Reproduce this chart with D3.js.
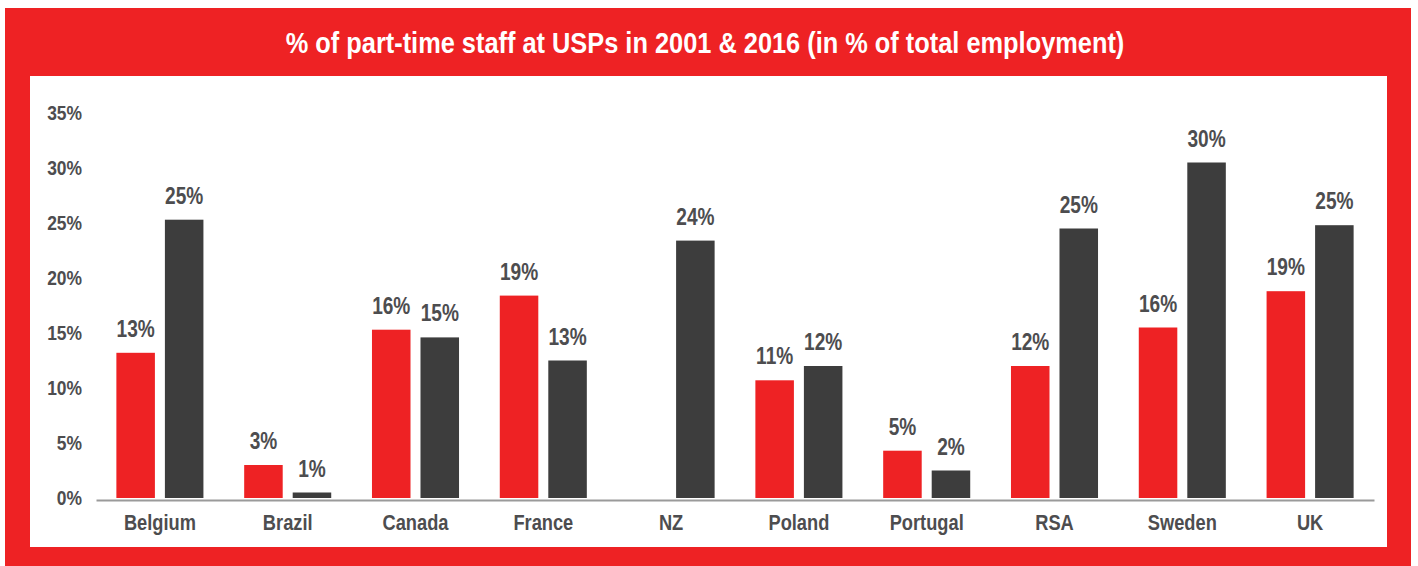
<!DOCTYPE html>
<html>
<head>
<meta charset="utf-8">
<script src="https://cdn.jsdelivr.net/npm/d3@7"></script>
<style>
  body { margin: 0; background: #fff; }
  svg text { font-family: "Liberation Sans", Arial, sans-serif; font-weight: bold; }
</style>
</head>
<body>
<div id="chart"></div>
<script>
// data
var countries = ["Belgium", "Brazil", "Canada", "France", "NZ", "Poland", "Portugal", "RSA", "Sweden", "UK"];
var values2001 = [13.2, 3.0, 15.3, 18.4, null, 10.7, 4.3, 12.0, 15.5, 18.8];
var values2016 = [25.3, 0.5, 14.6, 12.5, 23.4, 12.0, 2.5, 24.5, 30.5, 24.8];
var labels2001 = ["13%", "3%", "16%", "19%", "", "11%", "5%", "12%", "16%", "19%"];
var labels2016 = ["25%", "1%", "15%", "13%", "24%", "12%", "2%", "25%", "30%", "25%"];
var yTicks = [0, 5, 10, 15, 20, 25, 30, 35];
var title = "% of part-time staff at USPs in 2001 & 2016 (in % of total employment)";

var red = "#ee2224";
var dark = "#3d3d3d";
var textGrey = "#4d4d4f";
var squeeze = 0.83; // fake a condensed face

var W = 1418, H = 566;
var svg = d3.select("#chart").append("svg")
  .attr("width", W)
  .attr("height", H);

// text squeezed horizontally around its anchor point
function condensedText(parent, x, y, str, size, anchor, color, sx) {
  return parent.append("g")
    .attr("transform", "translate(" + x + "," + y + ") scale(" + (sx || squeeze) + ",1)")
    .append("text")
    .attr("text-anchor", anchor)
    .attr("fill", color)
    .style("font-size", size + "px")
    .text(str);
}

// red frame + white plot panel
svg.append("rect").attr("x", 5).attr("y", 8).attr("width", 1406).attr("height", 570).attr("fill", red);
svg.append("rect").attr("x", 30).attr("y", 76).attr("width", 1357).attr("height", 471).attr("fill", "#fff");

condensedText(svg, 705, 53, title, 29, "middle", "#fff", 0.875);

var margin = { left: 96, right: 1374, top: 113, bottom: 498 };

var x0 = d3.scaleBand()
  .domain(countries)
  .range([margin.left, margin.right])
  .paddingInner(0)
  .paddingOuter(0);

var x1 = d3.scaleBand()
  .domain(["2001", "2016"])
  .range([0, x0.bandwidth()])
  .paddingInner(0.206)
  .paddingOuter(0.42);

var y = d3.scaleLinear()
  .domain([0, 35])
  .range([margin.bottom, margin.top]);

// y axis labels (no line)
var yAxis = svg.append("g")
  .attr("transform", "translate(82,0)")
  .call(d3.axisLeft(y).tickValues(yTicks).tickSize(0).tickPadding(0).tickFormat(function (d) { return d + "%"; }));
yAxis.select(".domain").remove();
yAxis.selectAll("text")
  .attr("fill", textGrey)
  .attr("transform", "scale(" + squeeze + ",1)")
  .style("font-size", "21px")
  .style("font-family", null);

var groups = svg.selectAll(".group")
  .data(countries)
  .enter()
  .append("g")
  .attr("class", "group")
  .attr("transform", function (d) { return "translate(" + x0(d) + ",0)"; });

groups.each(function (c, i) {
  var g = d3.select(this);
  var series = [
    { key: "2001", v: values2001[i], label: labels2001[i], color: red },
    { key: "2016", v: values2016[i], label: labels2016[i], color: dark }
  ];
  series.forEach(function (s) {
    if (s.v === null) return;
    g.append("rect")
      .attr("x", x1(s.key))
      .attr("y", y(s.v))
      .attr("width", x1.bandwidth())
      .attr("height", y(0) - y(s.v))
      .attr("fill", s.color);
    condensedText(g, x1(s.key) + x1.bandwidth() / 2, y(s.v) - 16, s.label, 23, "middle", textGrey);
  });
});

// x axis: baseline + category names
var xAxis = svg.append("g")
  .attr("transform", "translate(0," + (margin.bottom + 2) + ")")
  .call(d3.axisBottom(x0).tickSize(0).tickPadding(14));
xAxis.select(".domain").attr("stroke", "#9a9a9a").attr("stroke-width", 2);
xAxis.selectAll("text")
  .attr("fill", textGrey)
  .attr("transform", "scale(" + squeeze + ",1)")
  .style("font-size", "22px")
  .style("font-family", null);
</script>
</body>
</html>
